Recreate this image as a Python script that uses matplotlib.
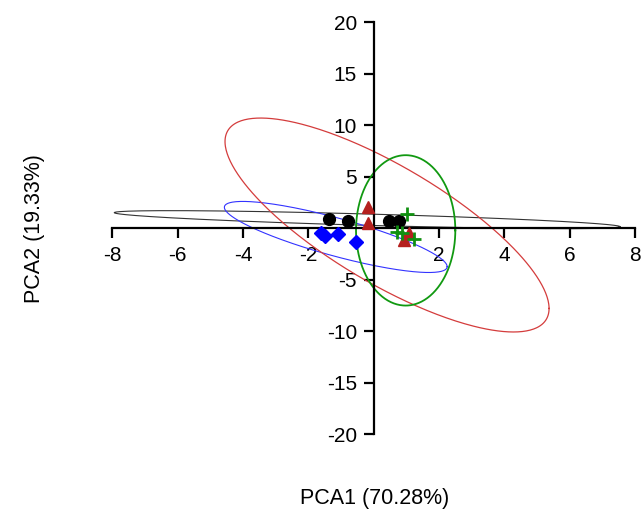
import numpy as np
import matplotlib
matplotlib.use("Agg")
import matplotlib.pyplot as plt

plt.rcParams['font.family'] = ['Liberation Sans', 'DejaVu Sans']

# ---- data ----
g1_x = [-1.36, -0.77, 0.48, 0.79]          # black circles
g1_y = [0.93, 0.71, 0.71, 0.71]
g2_x = [-1.60, -1.48, -1.09, -0.54]        # blue diamonds
g2_y = [-0.50, -0.70, -0.58, -1.36]
g3_x = [-0.16, -0.16, 1.09, 0.93]          # red triangles
g3_y = [2.10, 0.55, -0.43, -1.14]
g4_x = [1.02, 0.73, 0.88, 1.23]            # green plus
g4_y = [1.39, -0.39, -0.49, -1.07]

# ellipses: centre (cx, cy), vector to rightmost point (ax, ay), vertical half-chord by
ell_black = [-0.20, 0.84, 7.74, -0.68, 0.55]
ell_blue = [-1.16, -0.84, 3.41, -2.88, 1.90]
ell_red = [0.41, 0.32, 4.96, -8.10, 6.50]
ell_green = [0.98, -0.20, 1.52, 0.00, 7.30]

x_ticks = [-8, -6, -4, -2, 2, 4, 6, 8]
y_ticks = [-20, -15, -10, -5, 5, 10, 15, 20]
x_label = "PCA1 (70.28%)"
y_label = "PCA2 (19.33%)"

fig = plt.figure(figsize=(6.44, 5.13), dpi=100)
ax = fig.add_axes([0.1744, 0.1534, 0.8116, 0.8031])


def draw_ellipse(p, color, lw):
    cx, cy, axv, ayv, byv = p
    t = np.linspace(0, 2 * np.pi, 400)
    ax.plot(cx + axv * np.cos(t), cy + ayv * np.cos(t) + byv * np.sin(t),
            color=color, lw=lw, zorder=2, clip_on=False)


draw_ellipse(ell_black, '#333333', 0.8)
draw_ellipse(ell_blue, '#3333ff', 0.8)
draw_ellipse(ell_red, '#d43c3c', 0.9)
draw_ellipse(ell_green, '#119911', 1.3)

ax.plot(g1_x, g1_y, 'o', color='black', ms=8.5, zorder=4, clip_on=False)
ax.plot(g2_x, g2_y, 'D', color='#0000ff', ms=6.8, zorder=4, clip_on=False)
ax.plot(g3_x, g3_y, '^', color='#b5201e', ms=8.5, zorder=4, clip_on=False)
ax.plot(g4_x, g4_y, '+', color='#109010', ms=10, mew=2, zorder=4, clip_on=False)

ax.set_xlim(-8, 8)
ax.set_ylim(-20, 20)
for s in ['top', 'right']:
    ax.spines[s].set_visible(False)
ax.spines['left'].set_position(('data', 0))
ax.spines['bottom'].set_position(('data', 0))
ax.spines['left'].set_linewidth(1.6)
ax.spines['bottom'].set_linewidth(1.6)
ax.set_xticks(x_ticks)
ax.set_yticks(y_ticks)
ax.set_xticklabels([str(v) for v in x_ticks])
ax.set_yticklabels([str(v) for v in y_ticks])
ax.tick_params(axis='both', direction='out', length=7, width=1.6, labelsize=15)
ax.tick_params(axis='x', pad=6)
ax.tick_params(axis='y', pad=5)
ax.patch.set_visible(False)

fig.text(0.581, 0.029, x_label, ha='center', va='center', fontsize=15.5)
fig.text(0.054, 0.555, y_label, ha='center', va='center', rotation=90, fontsize=15.5)

fig.savefig('out.png', dpi=100)
